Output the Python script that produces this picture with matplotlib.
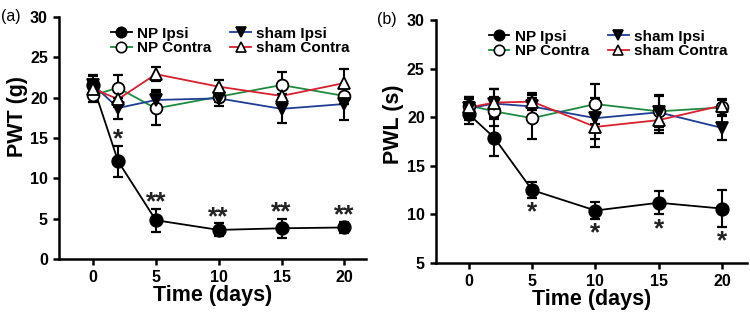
"""
PWT / PWL time course, NP vs sham, ipsilateral and contralateral paws.
Two panels side by side, saved as out.png (750x312).
"""

import matplotlib
matplotlib.use("Agg")
import matplotlib.pyplot as plt

plt.rcParams["font.family"] = ["Liberation Sans", "DejaVu Sans"]
plt.rcParams["font.weight"] = "bold"

# time points (days)
days = [0, 2, 5, 10, 15, 20]
series_names = ["NP Ipsi", "NP Contra", "sham Ipsi", "sham Contra"]

# panel (a): paw withdrawal threshold (g)
pwt_np_ipsi = [21.5, 12.1, 4.8, 3.6, 3.8, 3.9]
pwt_np_ipsi_err = [1.2, 1.9, 1.4, 0.8, 1.2, 0.7]
pwt_np_contra = [20.3, 21.2, 18.65, 20.1, 21.55, 20.2]
pwt_np_contra_err = [0.9, 1.6, 2.0, 0.6, 1.6, 1.0]
pwt_sham_ipsi = [21.6, 18.7, 19.7, 19.9, 18.6, 19.2]
pwt_sham_ipsi_err = [1.2, 1.3, 1.2, 1.0, 1.8, 2.0]
pwt_sham_contra = [21.1, 19.8, 22.9, 21.35, 20.2, 21.8]
pwt_sham_contra_err = [1.0, 1.0, 0.9, 0.85, 1.0, 1.75]
pwt_stars = ["", "*", "**", "**", "**", "**"]

# panel (b): paw withdrawal latency (s)
pwl_np_ipsi = [20.3, 17.9, 12.5, 10.4, 11.2, 10.6]
pwl_np_ipsi_err = [1.0, 1.9, 0.8, 0.85, 1.2, 1.9]
pwl_np_contra = [21.2, 20.6, 19.9, 21.35, 20.6, 21.0]
pwl_np_contra_err = [0.9, 1.5, 2.1, 2.05, 1.6, 0.8]
pwl_sham_ipsi = [20.9, 21.4, 21.1, 19.9, 20.5, 18.9]
pwl_sham_ipsi_err = [1.2, 1.5, 1.2, 2.1, 1.8, 1.2]
pwl_sham_contra = [21.0, 21.5, 21.6, 19.0, 19.7, 21.2]
pwl_sham_contra_err = [0.9, 1.4, 0.9, 2.1, 1.3, 0.7]
pwl_stars = ["", "", "*", "*", "*", "*"]

# style per series: colour, marker, face, size
styles = [
    ("black", "o", "black", 9),
    ("#1e8a40", "o", "white", 8.5),
    ("#1f3c96", "v", "black", 8.5),
    ("#d8202f", "^", "white", 8.5),
]


def draw_panel(ax, means, errs, stars, star_above, ylim, yticks, ylabel, letter, ylab_pos):
    for name, m, e, (col, mk, face, ms) in zip(series_names, means, errs, styles):
        ax.plot(days, m, color=col, lw=1.3, zorder=2)
        ax.errorbar(days, m, yerr=e, fmt="none", ecolor="black",
                    elinewidth=1.5, capsize=3.5, capthick=1.6, zorder=3)
        ax.plot(days, m, linestyle="none", marker=mk, markersize=ms,
                markerfacecolor=face, markeredgecolor="black",
                markeredgewidth=1.3, zorder=4)
        # legend proxy: coloured line with black marker
        ax.plot([], [], color=col, lw=1.3, marker=mk, markersize=7.5,
                markerfacecolor=face, markeredgecolor="black",
                markeredgewidth=1.2, label=name)

    # significance marks on the NP Ipsi series
    for d, m, e, s in zip(days, means[0], errs[0], stars):
        if not s:
            continue
        y = m + e + 0.8 if star_above else m - e - 1.5
        ax.text(d, y, s, ha="center", va="center", fontsize=19,
                fontweight="bold", color="#222222")

    ax.set_ylim(*ylim)
    ax.set_yticks(yticks)
    ax.set_xticks([0, 5, 10, 15, 20])
    ax.set_ylabel(ylabel, fontsize=15.5, fontweight="bold")
    ax.yaxis.set_label_coords(*ylab_pos)
    ax.set_xlabel("Time (days)", fontsize=15.5, fontweight="bold", labelpad=0)
    ax.tick_params(axis="both", labelsize=11.5, width=1.8, length=4,
                   direction="out", pad=4)
    for lab in ax.get_xticklabels() + ax.get_yticklabels():
        lab.set_fontweight("bold")
    for side in ("top", "right"):
        ax.spines[side].set_visible(False)
    for side in ("left", "bottom"):
        ax.spines[side].set_linewidth(1.8)

    leg = ax.legend(ncol=2, loc="upper left", bbox_to_anchor=(0.15, 0.985),
                    frameon=False, fontsize=11, handlelength=1.35,
                    handletextpad=0.35, columnspacing=1.25, labelspacing=0.05,
                    borderaxespad=0)
    for t in leg.get_texts():
        t.set_fontweight("bold")

    ax.text(-0.19, 1.0, letter, transform=ax.transAxes, fontsize=11.5,
            fontweight="normal", ha="left", va="center")


fig = plt.figure(figsize=(7.5, 3.12), dpi=100)
ax_a = fig.add_axes([0.0787, 0.170, 0.409, 0.776])
ax_b = fig.add_axes([0.5813, 0.157, 0.415, 0.779])

draw_panel(ax_a,
           [pwt_np_ipsi, pwt_np_contra, pwt_sham_ipsi, pwt_sham_contra],
           [pwt_np_ipsi_err, pwt_np_contra_err, pwt_sham_ipsi_err, pwt_sham_contra_err],
           pwt_stars, True, (0, 30), [0, 5, 10, 15, 20, 25, 30], "PWT (g)", "(a)",
           (-0.10, 0.59))
ax_a.set_xlim(-2.7, 21.7)

draw_panel(ax_b,
           [pwl_np_ipsi, pwl_np_contra, pwl_sham_ipsi, pwl_sham_contra],
           [pwl_np_ipsi_err, pwl_np_contra_err, pwl_sham_ipsi_err, pwl_sham_contra_err],
           pwl_stars, False, (5, 30), [5, 10, 15, 20, 25, 30], "PWL (s)", "(b)",
           (-0.103, 0.57))
ax_b.set_xlim(-2.6, 22.0)

fig.savefig("out.png", dpi=100)
